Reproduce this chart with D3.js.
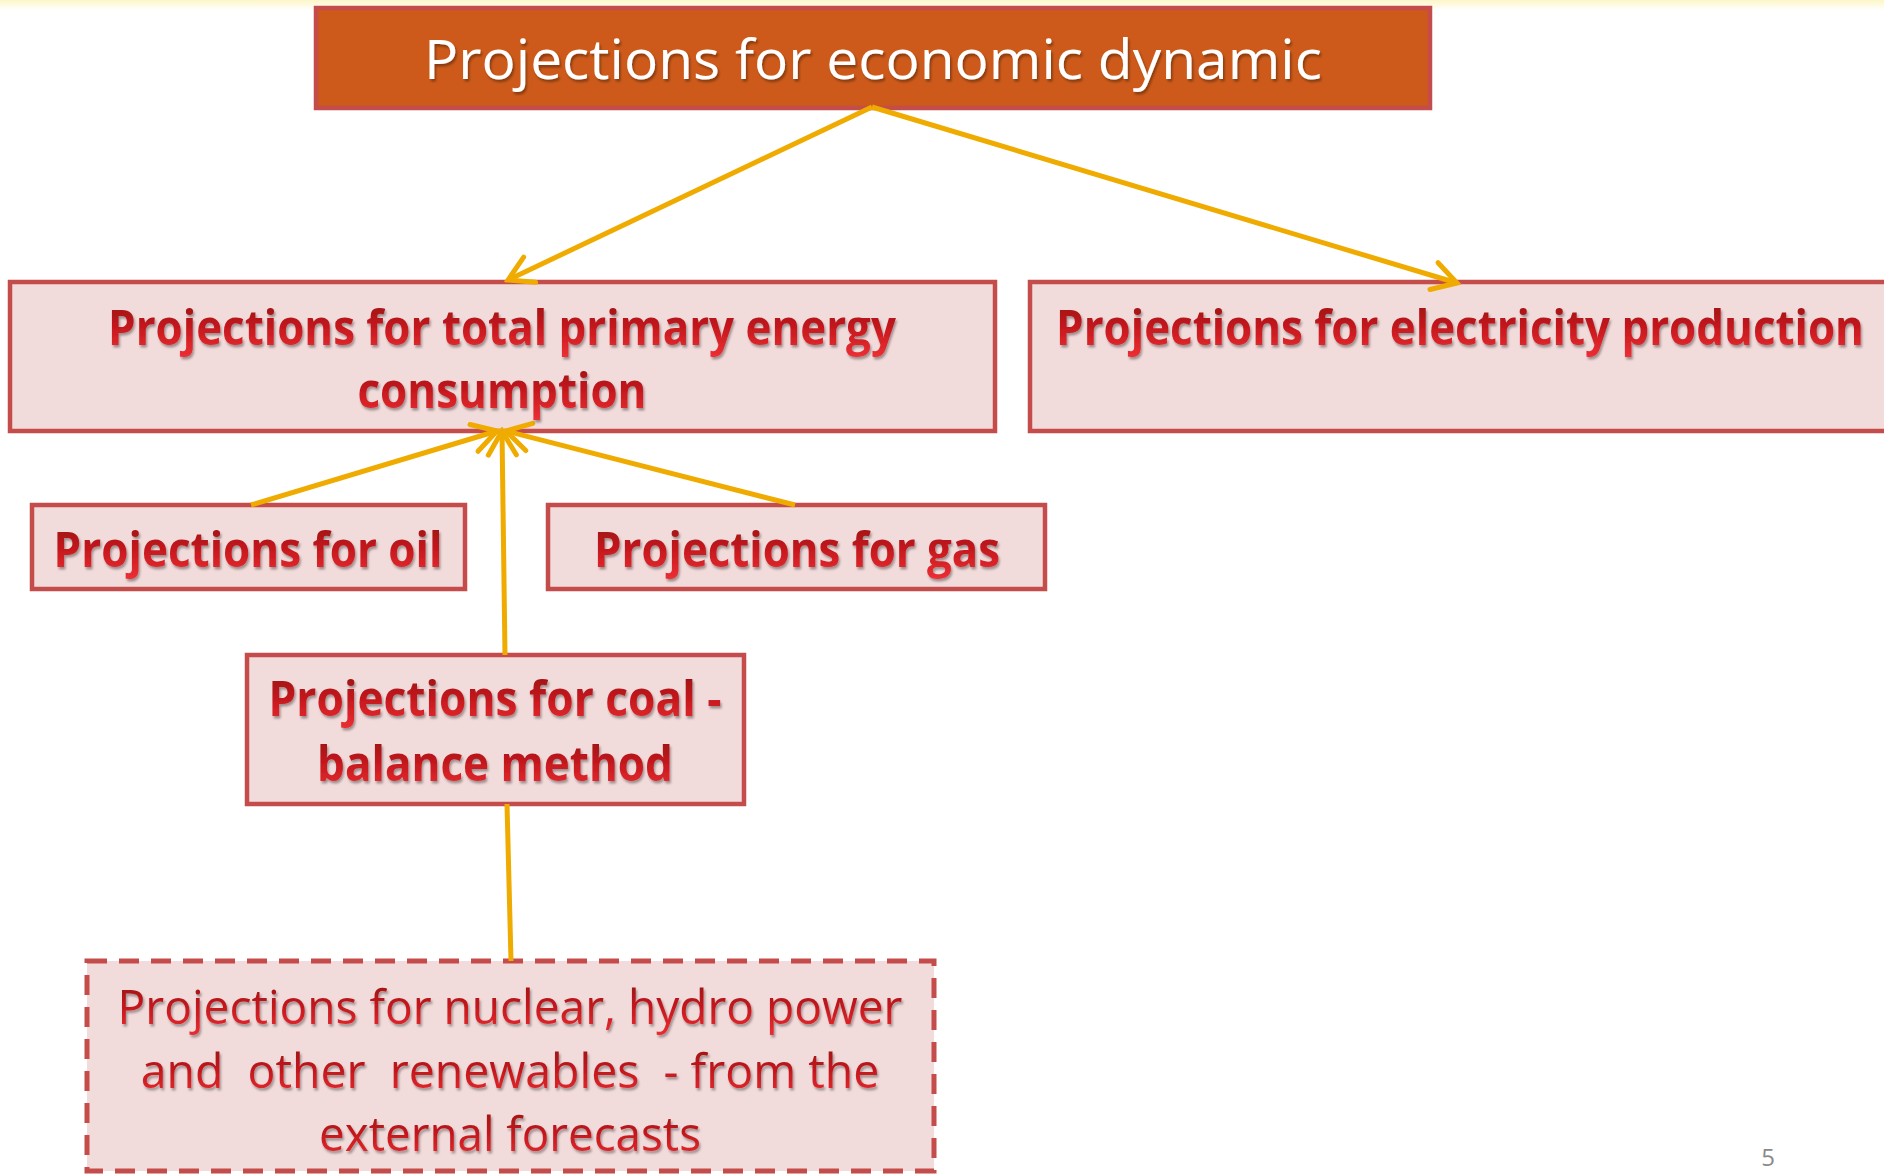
<!DOCTYPE html>
<html>
<head>
<meta charset="utf-8">
<script src="https://cdn.jsdelivr.net/npm/d3@7"></script>
<style>
  html, body { margin: 0; padding: 0; background: #fff; overflow: hidden; }
  svg { display: block; }
</style>
</head>
<body>
<div id="diagram"></div>
<script>
// ---- data ----
const nodeIds = ["economy", "primary", "electricity", "oil", "gas", "coal", "renewables"];

const nodeLabels = [
    ["Projections for economic dynamic"],
    ["Projections for total primary energy", "consumption"],
    ["Projections for electricity production"],
    ["Projections for oil"],
    ["Projections for gas"],
    ["Projections for coal -", "balance method"],
    ["Projections for nuclear, hydro power", "and  other  renewables  - from the", "external forecasts"]
];

// source -> target, arrow or plain line
const links = [
    ["economy", "primary", true],
    ["economy", "electricity", true],
    ["oil", "primary", true],
    ["gas", "primary", true],
    ["coal", "primary", true],
    ["renewables", "coal", false]
];

const pageNumber = "5";

// ---- layout (slide pixels) ----
const layout = {
    economy:     {x: 316,  y: 8,   w: 1114, h: 100, kind: "head"},
    primary:     {x: 10,   y: 282, w: 985,  h: 149, kind: "box"},
    electricity: {x: 1030, y: 282, w: 862,  h: 149, kind: "box"},
    oil:         {x: 32,   y: 505, w: 433,  h: 84,  kind: "box"},
    gas:         {x: 548,  y: 505, w: 497,  h: 84,  kind: "box"},
    coal:        {x: 247,  y: 655, w: 497,  h: 149, kind: "box"},
    renewables:  {x: 87,   y: 961, w: 847,  h: 210, kind: "dashed"}
};

// text line centres and fitted widths
const textLayout = {
    economy:     {cx: 873,  cy: [58],              w: [898]},
    primary:     {cx: 502,  cy: [326, 389],        w: [788, 289]},
    electricity: {cx: 1460, cy: [326],             w: [808]},
    oil:         {cx: 248,  cy: [548],             w: [389]},
    gas:         {cx: 797,  cy: [548],             w: [406]},
    coal:        {cx: 495,  cy: [698, 762],        w: [453, 356]},
    renewables:  {cx: 510,  cy: [1006, 1070, 1133], w: [785, 739, 382]}
};

// link anchor points
const linkPoints = [
    [[872, 107], [508, 280]],
    [[872, 107], [1457, 283]],
    [[251, 505], [497, 431]],
    [[795, 505], [506, 431]],
    [[505, 655], [502, 431]],
    [[511, 961], [507, 804]]
];

const width = 1884, height = 1175;

const x = d3.scaleLinear().domain([0, 1884]).range([0, width]);
const y = d3.scaleLinear().domain([0, 1175]).range([0, height]);

const svg = d3.select("#diagram").append("svg")
    .attr("width", width)
    .attr("height", height);

const defs = svg.append("defs");

// faint yellow glow at top of slide
let topGrad = defs.append("linearGradient")
    .attr("id", "topGlow").attr("x1", 0).attr("x2", 0).attr("y1", 0).attr("y2", 1);
topGrad.append("stop").attr("offset", "0%").attr("stop-color", "#fdf6c8");
topGrad.append("stop").attr("offset", "100%").attr("stop-color", "#ffffff");

svg.append("rect")
    .attr("x", 0).attr("y", 0)
    .attr("width", width).attr("height", 10)
    .attr("fill", "url(#topGlow)");

// red text gradient
let redGrad = defs.append("linearGradient")
    .attr("id", "redText").attr("x1", 0).attr("x2", 0).attr("y1", 0).attr("y2", 1);
redGrad.append("stop").attr("offset", "0%").attr("stop-color", "#8e0b0e");
redGrad.append("stop").attr("offset", "55%").attr("stop-color", "#c81a1f");
redGrad.append("stop").attr("offset", "100%").attr("stop-color", "#ee3035");

// soft text shadow
let shadow = defs.append("filter")
    .attr("id", "shadow").attr("x", "-5%").attr("y", "-20%")
    .attr("width", "110%").attr("height", "150%");
shadow.append("feDropShadow")
    .attr("dx", 1.5).attr("dy", 2.5).attr("stdDeviation", 1.2)
    .attr("flood-color", "#000").attr("flood-opacity", 0.35);

// open chevron arrowhead
defs.append("marker")
    .attr("id", "chevron")
    .attr("viewBox", "-30 -20 34 40")
    .attr("refX", 0).attr("refY", 0)
    .attr("markerWidth", 34).attr("markerHeight", 40)
    .attr("markerUnits", "userSpaceOnUse")
    .attr("orient", "auto")
    .append("path")
    .attr("d", "M-24,-14 L0,0 L-24,14")
    .attr("fill", "none")
    .attr("stroke", "#f0ab00")
    .attr("stroke-width", 5)
    .attr("stroke-linecap", "round")
    .attr("stroke-linejoin", "miter");

// ---- boxes ----
const nodes = nodeIds.map((id, i) => ({id: id, lines: nodeLabels[i], box: layout[id], text: textLayout[id]}));

const boxGroup = svg.append("g").attr("class", "boxes");

boxGroup.selectAll("rect")
    .data(nodes)
    .join("rect")
    .attr("x", d => x(d.box.x))
    .attr("y", d => y(d.box.y))
    .attr("width", d => x(d.box.w) - x(0))
    .attr("height", d => y(d.box.h) - y(0))
    .attr("fill", d => d.box.kind === "head" ? "#cd5a1a" : "#f2dbdb")
    .attr("stroke", "#c44d4b")
    .attr("stroke-width", d => d.box.kind === "dashed" ? 5 : 4.5)
    .attr("stroke-dasharray", d => d.box.kind === "dashed" ? "20,12" : null);

// ---- links ----
const linkData = links.map((l, i) => ({source: l[0], target: l[1], arrow: l[2], pts: linkPoints[i]}));

svg.append("g").attr("class", "links")
    .selectAll("line")
    .data(linkData)
    .join("line")
    .attr("x1", d => x(d.pts[0][0]))
    .attr("y1", d => y(d.pts[0][1]))
    .attr("x2", d => x(d.pts[1][0]))
    .attr("y2", d => y(d.pts[1][1]))
    .attr("stroke", "#f0ab00")
    .attr("stroke-width", 5)
    .attr("marker-end", d => d.arrow ? "url(#chevron)" : null);

// ---- labels ----
const labelGroups = svg.append("g").attr("class", "labels")
    .selectAll("g")
    .data(nodes)
    .join("g");

labelGroups.selectAll("text")
    .data(d => d.lines.map((t, j) => ({t: t, node: d, j: j})))
    .join("text")
    .attr("x", 0)
    .attr("y", 0)
    .attr("text-anchor", "middle")
    .attr("dominant-baseline", "central")
    .attr("font-family", "'Open Sans', sans-serif")
    .attr("font-size", d => d.node.box.kind === "head" ? 54 : 48)
    .attr("font-weight", d => d.node.box.kind === "box" ? "bold" : "normal")
    .attr("fill", d => d.node.box.kind === "head" ? "#ffffff" : "url(#redText)")
    .attr("filter", "url(#shadow)")
    .style("white-space", "pre")
    .text(d => d.t)
    .attr("transform", function (d) {
        // squeeze each line horizontally to the width it has on the slide
        let natural = this.getComputedTextLength();
        let k = (x(d.node.text.w[d.j]) - x(0)) / natural;
        return `translate(${x(d.node.text.cx)},${y(d.node.text.cy[d.j])}) scale(${k},1)`;
    });

// page number
svg.append("text")
    .attr("x", x(1768))
    .attr("y", y(1166))
    .attr("text-anchor", "middle")
    .attr("font-family", "'Open Sans', sans-serif")
    .attr("font-size", 24)
    .attr("fill", "#8a8a8a")
    .text(pageNumber);
</script>
</body>
</html>
